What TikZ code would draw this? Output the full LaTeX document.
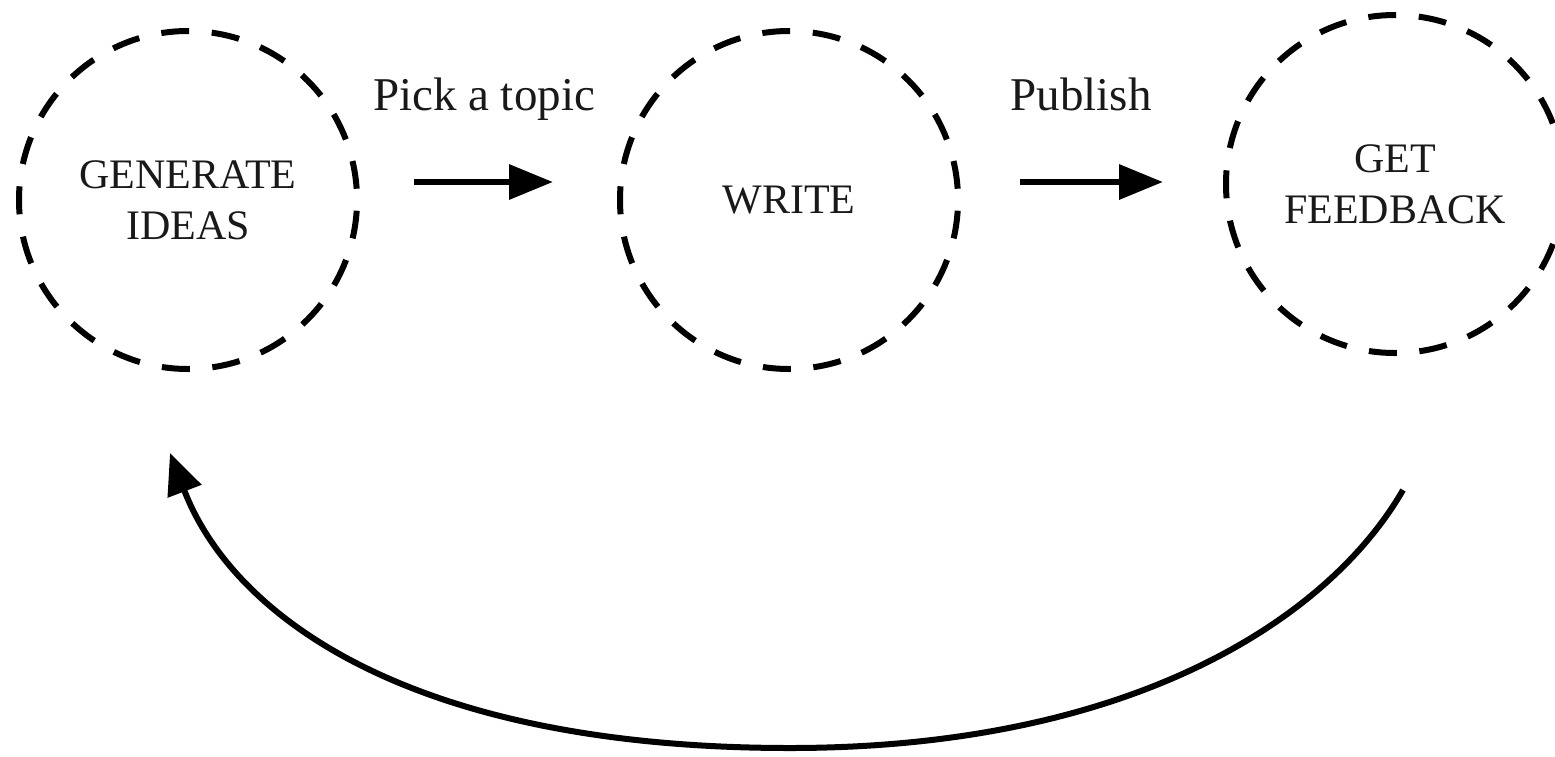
\documentclass[tikz,border=0pt]{standalone}
\usepackage{fontspec}
\setmainfont{Liberation Serif}
\usetikzlibrary{arrows.meta,calc}
\begin{document}
\begin{tikzpicture}[x=1pt,y=-1pt,
  stage/.style={circle, draw, line width=6pt, dash pattern=on 28pt off 22.6pt, dash phase=39.3pt,
    minimum size=338pt, inner sep=0pt, outer sep=0pt, align=center,
    font=\fontsize{42}{51}\selectfont, text=black!90},
  lbl/.style={anchor=base, font=\fontsize{47}{56}\selectfont, text=black!90},
  flow/.style={line width=6.5pt, -{Triangle[length=44pt,width=34pt]}},
  loopback/.style={line width=6pt, -{Triangle[length=41pt,width=35pt]}}]
\useasboundingbox (0,0) rectangle (1555,756);
\node[stage] (g) at (188,200) {GENERATE\\IDEAS};
\node[stage] (w) at (789,200) {WRITE};
\node[stage] (f) at (1395,184) {GET\\FEEDBACK};
\node[lbl] (pick) at (484,110) {Pick a topic};
\node[lbl] (pub) at (1081,110) {Publish};
\draw[flow] ([shift={(57pt,18pt)}]g.east) -- ([shift={(-67pt,18pt)}]w.west);
\draw[flow] ([shift={(62pt,18pt)}]w.east) -- ([shift={(-63pt,2pt)}]f.west);
\coordinate (fb) at (1403,490);
\coordinate (bot) at (790,748);
\coordinate (gb) at (170,453);
\draw[loopback] (fb) .. controls (1328,620) and (1130,748) .. (bot)
  .. controls (400,748) and (230,610) .. (gb);
\end{tikzpicture}
\end{document}
